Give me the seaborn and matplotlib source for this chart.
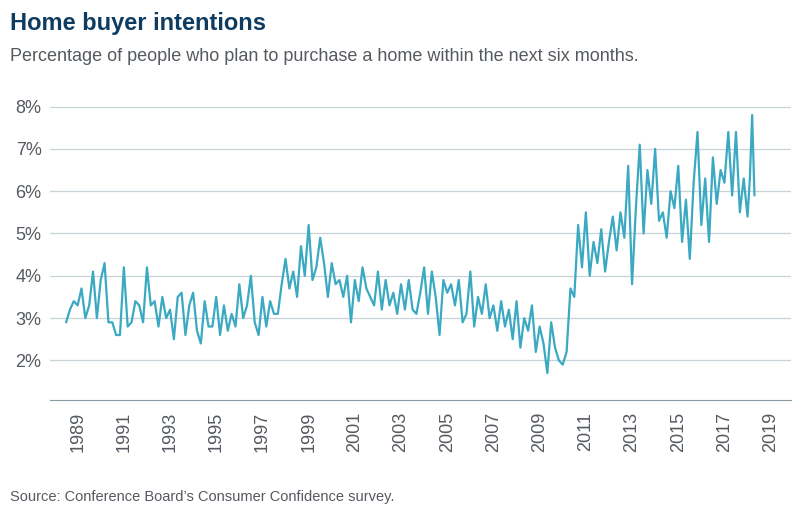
import numpy as np
import pandas as pd
import matplotlib
matplotlib.use("Agg")
import matplotlib.pyplot as plt
import seaborn as sns

# bimonthly readings (percent), by year
vals = {
 1988: [2.9, 3.2, 3.4],
 1989: [3.3, 3.7, 3.0, 3.3, 4.1, 3.0],
 1990: [3.9, 4.3, 2.9, 2.9, 2.6, 2.6],
 1991: [4.2, 2.8, 2.9, 3.4, 3.3, 2.9],
 1992: [4.2, 3.3, 3.4, 2.8, 3.5, 3.0],
 1993: [3.2, 2.5, 3.5, 3.6, 2.6, 3.3],
 1994: [3.6, 2.7, 2.4, 3.4, 2.8, 2.8],
 1995: [3.5, 2.6, 3.3, 2.7, 3.1, 2.8],
 1996: [3.8, 3.0, 3.3, 4.0, 2.9, 2.6],
 1997: [3.5, 2.8, 3.4, 3.1, 3.1, 3.8],
 1998: [4.4, 3.7, 4.1, 3.5, 4.7, 4.0],
 1999: [5.2, 3.9, 4.2, 4.9, 4.3, 3.5],
 2000: [4.3, 3.8, 3.9, 3.5, 4.0, 2.9],
 2001: [3.9, 3.4, 4.2, 3.7, 3.5, 3.3],
 2002: [4.1, 3.2, 3.9, 3.3, 3.6, 3.1],
 2003: [3.8, 3.2, 3.9, 3.2, 3.1, 3.6],
 2004: [4.2, 3.1, 4.1, 3.5, 2.6, 3.9],
 2005: [3.6, 3.8, 3.3, 3.9, 2.9, 3.1],
 2006: [4.1, 2.8, 3.5, 3.1, 3.8, 3.0],
 2007: [3.3, 2.7, 3.4, 2.8, 3.2, 2.5],
 2008: [3.4, 2.3, 3.0, 2.7, 3.3, 2.2],
 2009: [2.8, 2.4, 1.7, 2.9, 2.3, 2.0],
 2010: [1.9, 2.2, 3.7, 3.5, 5.2, 4.2],
 2011: [5.5, 4.0, 4.8, 4.3, 5.1, 4.1],
 2012: [4.8, 5.4, 4.6, 5.5, 4.9, 6.6],
 2013: [3.8, 5.6, 7.1, 5.0, 6.5, 5.7],
 2014: [7.0, 5.3, 5.5, 4.9, 6.0, 5.6],
 2015: [6.6, 4.8, 5.8, 4.4, 6.2, 7.4],
 2016: [5.2, 6.3, 4.8, 6.8, 5.7, 6.5],
 2017: [6.2, 7.4, 5.9, 7.4, 5.5, 6.3],
 2018: [5.4, 6.3, 7.8, 5.9],
}
rows = []
for y, v in vals.items():
    start = 0.5 if y == 1988 else 0.0
    step = 1 / 10 if y == 2018 else 1 / 6
    for i, x in enumerate(v):
        rows.append((y + start + i * step, x))
df = pd.DataFrame(rows, columns=["date", "pct"])

xticks = list(range(1989, 2020, 2))
yticks = [2, 3, 4, 5, 6, 7, 8]

sns.set_style("white")
plt.rcParams["font.family"] = ["Liberation Sans", "DejaVu Sans"]
fig = plt.figure(figsize=(8.05, 5.19), dpi=100)
ax = fig.add_axes([0.062, 0.229, 0.92, 0.586])
sns.lineplot(data=df, x="date", y="pct", ax=ax, color="#3aa9c1", linewidth=1.6)
ax.set_xlim(1987.8, 2019.86)
ax.set_ylim(1.06, 8.25)
ax.set_yticks(yticks)
ax.set_yticklabels([f"{t}%" for t in yticks], fontsize=13, color="#555a60")
ax.set_xticks(xticks)
ax.set_xticklabels([str(t) for t in xticks], rotation=90, fontsize=13, color="#555a60")
ax.grid(axis="y", color="#c8d3d8", linewidth=0.9)
for s in ["top", "right", "left"]:
    ax.spines[s].set_visible(False)
ax.spines["bottom"].set_color("#8a9aa3")
ax.tick_params(axis="x", length=5, color="#8a9aa3")
ax.tick_params(axis="y", length=0, pad=6)
ax.set_xlabel(""); ax.set_ylabel("")
fig.text(0.012, 0.943, "Home buyer intentions", fontsize=17, fontweight="bold", color="#0e3c61")
fig.text(0.012, 0.882, "Percentage of people who plan to purchase a home within the next six months.",
         fontsize=13, color="#555a60")
fig.text(0.012, 0.035, "Source: Conference Board\u2019s Consumer Confidence survey.", fontsize=10.5, color="#555a60")
fig.savefig("out.png", dpi=100)
